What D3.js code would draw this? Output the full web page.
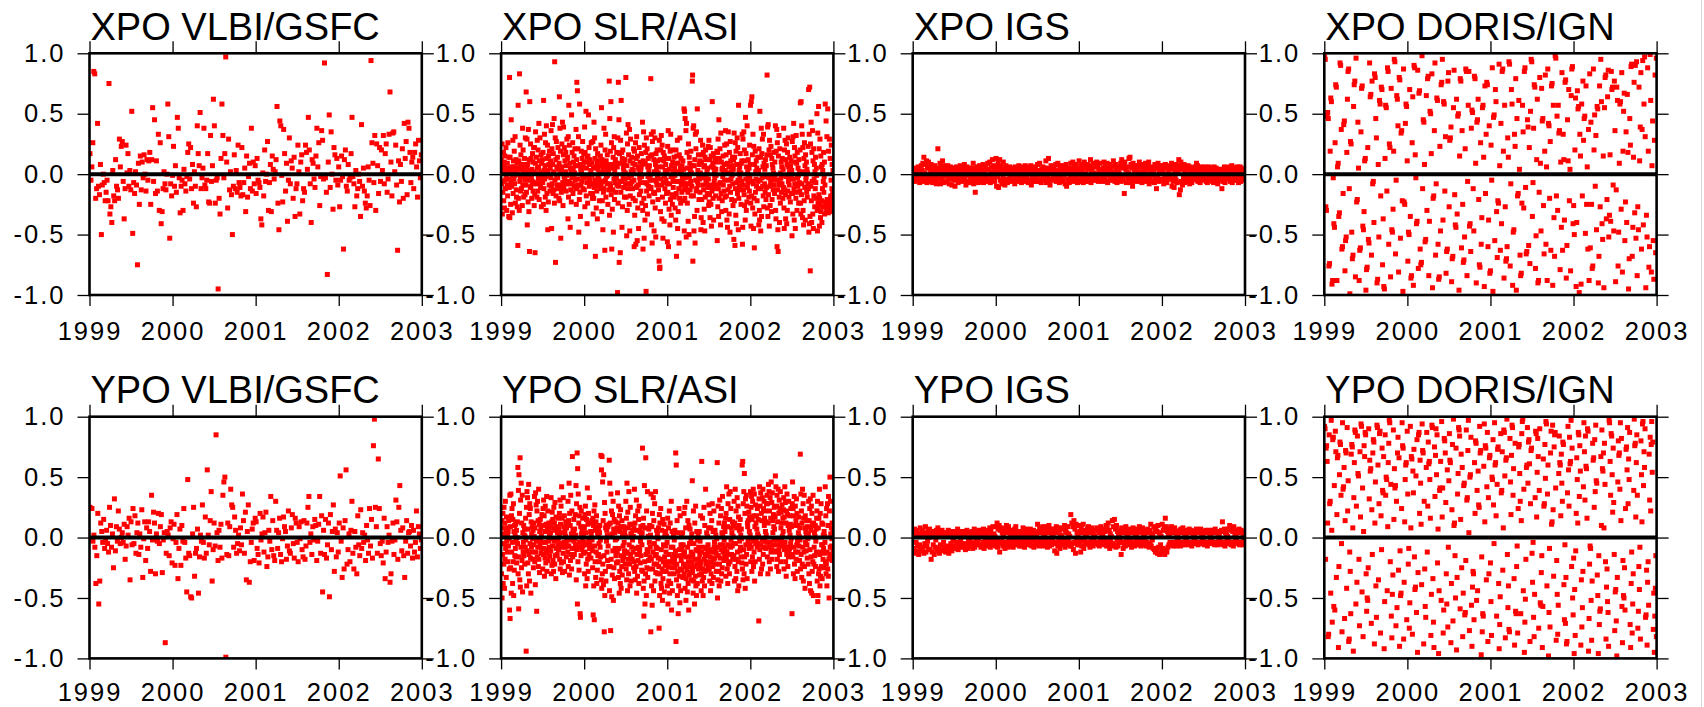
<!DOCTYPE html>
<html>
<head>
<meta charset="utf-8">
<script src="https://cdn.jsdelivr.net/npm/d3@7"></script>
<style>
  body { margin: 0; background: #fff; }
  svg { display: block; }
  text { font-family: "Liberation Sans", Arial, Helvetica, sans-serif; fill: #000; }
</style>
</head>
<body>
<svg id="chart" width="1704" height="707"></svg>
<script>
// Polar motion residuals per technique, in units of 0.01 mas.
// Each series is sampled at evenly spaced epochs over 1999.0 - 2003.0.

const xpoVlbi = [
  17,-5,6,26,85,83,-20,-12,42,-10, -17,8,-50,-9,0,-7,-22,-15,-5,-22,
  75,-33,-27,-40,3,-18,-22,12,-10,-13, -20,29,6,23,27,-6,-37,-12,24,1,
  17,-10,3,-13,52,-49,-7,-16,2,-9, -75,9,-25,15,-13,10,-3,16,0,-14,
  12,-5,11,18,-25,12,55,-6,45,-16, 11,-14,33,-30,26,-41,-31,-12,2,-8,
  -13,0,58,31,-53,-8,-18,-1,23,-10, 7,-15,47,38,-3,-32,-10,-5,-30,4,
  -8,-14,-2,18,25,-4,22,-12,8,-24, 2,-10,-27,40,17,7,51,-12,-3,5,
  38,-9,-12,-5,17,-23,-24,32,-6,7, 62,40,-24,-5,-3,-95,-20,-33,13,58,
  32,-3,17,97,10,-28,29,-13,2,-17, -50,-10,16,-12,3,-15,24,-7,-11,-18,
  22,-17,-7,5,-31,15,-19,-2,9,-12, 38,-14,10,-8,7,-16,13,-5,-7,-11,
  -37,-42,1,-18,20,-6,0,27,-30,-7, 8,-31,15,4,-4,2,12,56,-24,-46,
  44,40,-1,-23,37,17,-14,9,-39,-5, 30,-8,11,5,-20,14,-35,-12,-8,24,
  2,-33,10,16,-22,-12,-15,24,18,4, 47,20,-8,-40,12,9,-4,-11,15,38,
  6,26,-26,-2,36,28,-4,92,-3,-15, -83,10,49,-11,35,0,-29,22,16,-5,
  13,-9,6,-27,-5,15,-2,-62,12,20, -10,-14,8,-5,-3,17,47,-2,-8,-27,
  3,-18,-12,0,-6,-35,41,-10,5,-14, -24,-28,-18,6,-5,-26,94,26,9,-7,
  32,-30,25,7,-16,22,-6,20,3,32, -8,17,25,-15,-4,33,68,10,-18,34,
  35,2,24,-9,-63,11,-23,8,-6,21, -20,42,13,27,-17,43,38,18,-7,10,
  14,-12,18,25,6,-19,28,11,-3,16
];

const xpoSlr = [
  12,-8,3,25,-33,4,-15,-6,18,-22,7,10,-28,15,-5,-12,1,22,-2,3,-30,-9,9,-18,26,-4,5,-35,14,-11,
  80,-36,14,2,-25,-7,45,-10,6,2,-32,-3,28,-16,11,6,-4,19,-8,-1,31,-24,2,12,-13,-19,5,9,-27,0,
  -59,57,-20,4,11,-30,83,-6,24,-2,-14,16,8,-12,5,4,-26,38,-9,20,1,-19,8,-2,13,-5,-17,30,3,-9,
  68,-15,7,29,-42,8,-1,-23,37,-5,-31,12,-64,60,3,-11,25,-10,13,-3,-20,4,-6,17,10,-14,2,22,-8,-26,
  22,-17,-65,9,35,-7,1,14,-8,-19,28,5,-14,20,-3,6,42,-21,11,-8,30,-4,-11,2,16,-27,9,-2,12,-6,
  -7,18,-25,61,-12,3,33,-4,7,-19,26,-2,-30,40,13,-16,0,24,-46,3,-23,15,8,-9,19,-1,-14,5,11,-3,
  36,-10,-45,21,-8,41,8,-16,17,2,-13,46,-24,93,-5,30,-73,12,-18,27,-1,6,-9,14,-3,22,-12,4,-20,9,
  64,-22,38,-9,19,-53,3,-15,6,25,-12,43,-7,-26,16,39,-11,-2,22,-3,11,-6,2,18,-14,7,-1,29,-8,13,
  14,-37,31,-19,57,-6,24,-8,9,-44,5,-13,2,-23,49,-3,18,-8,26,-16,4,10,-2,15,-10,1,21,-5,7,-12,
  37,-25,12,76,-11,69,-9,21,-4,31,-48,7,-21,58,-15,8,-35,4,-9,19,2,-6,13,-1,27,-12,6,-3,17,10,
  -13,39,-27,18,-60,10,52,-18,5,-7,-41,14,-24,15,-2,49,-3,22,-10,8,-5,12,0,-16,3,26,-8,9,-1,-20,
  -16,27,-33,5,-20,43,-11,30,-5,13,-68,21,-8,-28,6,-14,9,-37,17,-2,4,-10,11,-4,1,-22,7,-6,15,-12,
  24,-9,55,-31,12,-22,9,-46,3,-15,-12,38,-6,7,-63,20,-5,33,-19,11,-2,4,-8,16,-1,-25,8,2,-13,5,
  77,-34,46,-8,19,-10,60,-17,26,-62,8,-29,5,-13,14,-48,22,-4,31,-21,3,-7,12,-1,-15,9,-3,18,-9,6,
  -98,30,-24,76,-10,45,-73,17,-6,9,-65,28,-15,61,-6,18,-44,13,-27,20,-3,5,-11,2,8,-19,12,-4,1,-8,
  80,-19,34,-51,7,-30,25,-12,41,-8,16,-3,-25,37,-47,11,-18,29,-8,2,-1,14,-6,4,-12,9,-20,3,21,-5,
  -60,19,-34,8,-22,26,-58,13,-11,31,-10,-55,15,-28,6,-9,-45,4,22,-17,-3,10,-7,1,-14,5,17,-2,-24,8,
  43,-30,-62,11,35,-20,-53,24,-7,-38,9,-26,18,-97,30,-14,-8,21,-33,6,-2,13,-10,3,-18,7,-5,15,-1,-12,
  79,-11,33,-42,16,-57,27,-23,-5,35,-15,12,-47,2,-16,30,-28,8,-52,17,-6,4,-9,20,-3,11,-21,1,-13,6,
  -72,28,-78,-77,12,-31,20,-4,32,-9,-37,24,-19,6,-53,18,-7,11,-39,15,-2,-12,3,-24,8,-5,13,-16,1,-8,
  -56,23,-15,36,-60,13,-29,4,-8,-42,19,-21,33,-2,-34,7,-17,20,-25,10,-4,-11,2,-6,14,-19,5,-1,-28,9,
  -38,20,-16,-68,15,-6,28,-45,9,-31,2,-12,-57,16,-20,30,-6,5,-24,13,-9,1,-15,7,-3,-22,11,-7,4,-13,
  54,-47,52,-20,46,-3,-11,36,-52,42,-8,18,-24,5,-15,-39,25,-8,-50,14,-2,9,-13,3,-6,19,-18,1,-10,7,
  77,82,-72,38,-18,40,-47,7,-35,12,-57,33,-5,21,-14,35,-12,-30,54,-6,3,-9,16,-2,-21,8,-4,11,-15,1,
  28,-46,-36,10,-21,16,-3,24,-9,-40,18,-13,6,-29,7,-47,14,-19,20,-5,-1,12,-8,2,-16,5,-11,23,-4,-26,
  28,-23,-17,12,-36,22,-9,-25,15,-43,6,-14,60,-11,9,-20,17,-38,5,-6,1,-3,13,-9,-18,4,-1,10,-12,19,
  -55,18,-27,29,-12,-35,45,-20,13,-8,21,-7,-42,34,-16,10,-31,4,-22,5,-2,15,-9,1,-14,8,-5,24,-19,3,
  36,-30,16,-18,25,-38,9,-44,1,-13,35,-5,6,-33,18,-10,-48,27,-15,11,-4,2,-21,7,-1,14,-8,-26,4,12,
  -54,34,-22,14,-59,26,-12,-34,19,-41,8,-7,30,-16,22,-5,-46,57,-20,3,-10,6,-2,17,-13,1,-25,9,-6,11,
  33,-58,-44,29,-9,-13,35,-17,20,-26,11,-38,47,-4,17,-30,6,-23,40,-11,2,-7,12,-1,-19,5,-14,24,-3,8,
  57,-24,-43,60,-18,64,-6,16,-28,33,-8,-45,23,-20,-61,8,-33,19,-15,2,-4,11,-10,5,-22,1,14,-6,-12,3,
  -42,21,-30,-38,52,-5,14,-47,-12,38,-35,17,-3,29,-10,6,-18,33,-27,9,-1,-8,4,-15,12,-2,-21,7,-11,16,
  82,-28,39,-35,41,-17,-3,20,-43,28,-10,-26,16,-7,23,-6,-31,13,-21,8,-2,5,-13,1,-9,18,-4,-16,10,-1,
  40,-30,-37,19,-5,37,-60,26,-13,-46,-64,15,-9,32,-19,-40,21,-7,-24,1,-3,10,-15,6,-8,13,-1,-20,4,-11,
  38,-28,-45,20,-13,28,-17,-37,12,-2,25,-41,8,-30,18,-14,30,-6,6,-19,-9,2,14,-4,-23,7,-1,11,-16,3,
  -51,27,-16,-33,31,-4,42,-12,-38,22,-8,15,-45,10,-20,32,-15,9,-30,18,-3,-10,5,-1,-24,12,-7,2,-14,20,
  59,-24,-33,60,-17,40,-8,33,-36,22,-30,2,-42,13,-22,26,-11,7,-38,16,-5,-2,10,-15,4,-19,1,-8,23,-12,
  70,-48,33,-41,72,-35,-80,25,-10,43,-22,-40,18,-6,36,-33,11,-45,21,-18,-4,8,-27,2,-12,14,-7,-20,5,-1,
  50,-30,-47,34,-24,-28,56,-17,21,-43,-20,29,-25,-36,15,-31,6,-22,-40,8,-12,3,-27,-6,18,-15,-2,10,-33,-9,
  58,-23,-27,44,-26,-30,31,-21,-28,54,-25,-32,19,-24,-29,29,-22,-26,13,-20,-18,-5,24,-31,-12,8,-27,-15,3,-22
];

const xpoIgs = [
  3,-4,1,5,-6,2,-2,4,-5,0,6,-3,2,-7,4,-1, 7,-5,3,9,-2,14,-6,1,8,-4,11,-7,5,-1,10,-3,
  6,-6,2,8,-3,4,-7,1,5,-2,7,-5,3,-8,2,-4, 21,-3,5,-1,9,-8,2,6,-5,11,-2,4,-7,7,-1,3,
  4,-6,2,7,-3,5,-8,1,6,-4,3,-9,2,-2,5,-5, 5,-10,3,-1,6,-4,2,-7,4,0,-5,7,-3,1,-6,3,
  6,-5,2,8,-2,4,-9,1,6,-6,3,-1,5,-7,2,-3, 3,-6,5,-2,9,-8,1,4,-15,2,-5,6,-3,1,-7,4,
  7,-4,2,5,-6,1,-3,8,-7,3,0,-5,6,-2,4,-6, 9,-5,4,-1,10,-7,2,6,-3,12,-4,1,7,-6,3,-2,
  13,-10,6,-2,9,-11,3,12,-5,1,7,-8,4,-3,10,-6, 4,-9,2,7,-4,5,-7,1,3,-5,6,-2,2,-6,4,-1,
  5,-5,1,4,-8,6,-3,2,5,-6,1,-4,7,-2,3,-5, 6,-7,3,-1,5,-4,2,-6,7,0,-5,3,-2,6,-7,1,
  4,-5,2,7,-9,3,-2,5,-6,1,4,-4,6,-3,2,-6, 8,-6,3,-1,9,-5,2,-7,4,1,6,-3,-5,5,-2,3,
  11,-7,2,5,-3,13,-6,1,-9,4,7,-4,2,-5,6,-2, 6,-4,3,8,-6,2,-5,9,-3,1,-7,4,7,-2,3,-6,
  7,-5,2,-1,6,-8,4,8,-10,3,-4,1,5,-7,2,-3, 9,-4,5,-2,10,-6,3,7,-5,1,8,-3,4,-7,2,-1,
  11,-5,3,7,-6,2,-2,8,-7,5,10,-3,1,-6,6,-4, 8,-6,4,-2,7,-4,12,-7,2,5,-3,9,-5,1,-2,6,
  6,-5,10,-2,7,-6,3,-1,9,-5,2,4,-6,1,-3,5, 10,-4,7,-6,2,-1,9,-7,4,1,8,-5,3,-2,6,-4,
  7,-5,11,-3,2,-6,8,-1,5,-7,3,4,-4,1,-2,6, 9,-6,12,-2,5,-5,7,-16,10,-1,4,-7,2,6,-3,1,
  13,-5,14,-7,8,-2,5,-10,9,-4,3,-6,1,7,-3,2, 5,-4,7,-6,10,-3,2,-1,6,-7,8,-2,3,-5,1,4,
  9,-6,5,-2,7,-5,10,-8,3,-4,6,-1,2,-6,4,1, 4,-7,8,-3,6,-12,5,-2,9,-6,1,3,-5,7,-4,2,
  7,-5,3,-8,6,-2,8,-6,5,-7,7,-3,1,-4,4,-1, 6,-4,9,-10,5,-6,7,-11,2,-3,8,-5,3,-7,1,4,
  12,-17,7,-13,10,-6,4,-9,6,-2,8,-7,3,-5,2,-1, 5,-6,7,-3,4,-8,6,-5,2,-7,5,-2,1,-4,3,-3,
  6,-4,9,-5,7,-6,3,-1,5,-7,6,-2,2,-4,4,1, 4,-5,6,-3,2,-6,5,-7,3,-4,6,-1,1,-5,3,-2,
  5,-6,3,-7,6,-4,2,-2,5,-6,3,-8,1,-3,4,-1, 3,-5,2,-12,4,-6,3,-2,6,-7,2,-4,1,-3,5,0,
  5,-3,6,-6,3,-5,7,-7,2,-4,5,-2,1,-5,4,-1, 6,-5,3,-7,4,-2,6,-6,5,-4,3,-5,1,-3,4,-2
];

const xpoDoris = [
  97,95,-27,-30,48,51,46,-76,-74,19,63,60,-91,-88,-3,-41,-44,26,74,72,-88,6,9,-35,-32,92,90,37,-62,-60,-16,41,44,-80,
  -55,-52,18,62,85,87,-12,-99,27,25,-48,-70,-67,56,74,77,-85,96,-23,-21,43,5,-88,-63,-61,35,71,73,-43,-46,
  -31,11,13,-96,-79,-77,22,-54,-57,92,64,66,-67,77,-8,-6,-40,83,80,46,30,-90,-87,8,-52,61,58,-18,72,70,-75,
  -37,-93,-95,13,57,55,-14,88,85,-58,25,22,-85,71,-46,-48,-29,19,95,93,-66,-5,65,62,40,-81,80,78,-53,
  34,36,-22,-97,87,-23,-25,42,58,56,11,-72,-48,-50,70,-35,-86,-84,26,64,-92,90,88,16,-3,-41,-39,86,
  -78,67,69,-62,-75,-73,98,-12,45,43,8,-56,-54,65,-30,79,81,-84,-39,52,50,17,83,-94,-20,-18,36,92,
  -67,-8,63,61,-58,-87,-85,23,-47,74,76,95,-38,60,58,-14,31,-82,-64,-62,77,84,-27,28,30,39,-89,
  -70,-68,55,86,-17,-42,-44,62,-33,48,50,-96,15,79,77,-61,36,-25,-73,-71,-52,21,87,85,-84,-6,57,
  85,-43,-41,-64,38,53,51,-12,-47,81,79,9,-90,43,45,62,-21,-75,-77,26,-58,-36,55,57,14,-93,73,
  -16,33,76,74,-60,-38,40,-82,-80,24,-5,88,-97,47,49,-55,70,60,-31,-69,-22,-24,91,7,-63,
  42,-41,85,87,19,-86,57,-27,-72,-70,-60,30,14,93,91,-76,-8,70,58,-92,-48,-46,33,23,79,
  -96,46,-18,-16,61,4,-67,-84,-82,-24,57,35,-28,85,88,-11,-66,-64,45,39,-59,22,-74,52,
  95,93,-35,-7,38,74,72,-78,-51,12,62,-90,-88,-15,80,9,-47,71,44,46,-26,-66,19,82,-58,
  6,-88,87,42,40,-20,27,-63,73,75,-92,57,-36,-68,98,96,-18,48,-30,57,34,36,-79,10,-44,
  84,-63,33,12,-38,76,78,-86,-59,45,11,70,-22,4,-80,65,87,89,-41,-26,-50,20,63,
  -93,-40,69,54,56,-98,33,15,-91,58,-18,77,28,46,48,-49,73,-25,6,-62,37,-88,83,
  -61,43,-25,-78,-76,87,20,49,-10,32,-46,56,54,-90,-68,73,-27,95,60,-41,-54,15,
  -94,55,80,82,-37,-21,64,86,-52,-34,16,-39,85,70,72,-9,-47,77,36,-89,-13,72,
  61,-76,-48,9,58,60,-29,84,-81,19,52,67,-55,-23,35,-40,66,18,-95,-70,46,
  24,89,91,-68,-44,14,76,-32,90,-53,93,-84,-27,-46,72,11,39,84,-62,37,94,
  -42,58,97,31,-94,-34,-52,88,19,-77,-60,99,61,-81,7,44,-55,-87,28,82,-65,96
];

const ypoVlbi = [
  25,-1,24,-3,2,-8,-38,-15,20,-55, -36,12,5,-4,15,-9,-2,6,-5,-12,
  25,10,-8,3,-25,32,-11,9,-3,22, 7,-5,0,4,-4,11,-18,-7,9,2,
  16,-35,13,-6,24,-5,18,-13,4,12, -14,3,-8,23,-33,-1,13,-19,8,-9,
  13,5,-28,35,-2,21,12,-30,3,-3, 20,-5,9,19,-29,-2,4,-87,-13,5,
  2,-15,8,13,-21,-1,11,-23,-4,19, -34,-9,7,-23,10,-3,24,-4,-17,-45,
  48,-13,-15,-49,-50,3,25,-32,-13,-9, 7,-46,-16,2,-3,27,-4,-17,17,-13,
  56,2,-6,14,38,-36,-10,12,-7,85, 4,-19,6,-8,11,-17,35,46,50,-99,
  -14,12,-15,9,40,27,25,-8,17,6, -13,-5,2,-11,8,-6,36,14,-13,21,
  -35,5,27,-37,-20,-4,7,12,-19,16, 13,-9,-14,-21,20,-2,3,17,-12,4,
  21,-24,-16,6,-3,34,-10,14,-15,-19, 30,6,-9,4,16,-14,-20,-1,17,9,
  5,-18,-7,22,-11,-13,8,19,-5,-17, 16,12,-4,-20,9,-1,13,-10,-16,14,
  -18,-7,12,25,34,-4,3,-14,9,-2, 15,10,-19,-3,11,34,-13,18,-45,6,
  -14,15,-17,-6,12,-49,19,-10,5,27, -28,7,-16,4,-12,12,51,-3,-33,8,
  -26,14,56,-22,-10,3,-20,6,30,-13, -26,5,-8,-30,18,-6,-15,23,-9,4,
  -4,2,-19,10,-2,-13,24,-7,15,-17, 76,98,25,9,-13,65,24,-5,-15,-3,
  -21,16,-34,-12,9,-4,2,-37,-30,-3, 12,-14,-2,31,13,-18,25,43,6,-11,
  8,-15,-33,-3,14,-13,4,5,-7,10, -17,6,-12,-4,22,-16,9,3,-9,-2
];

const ypoSlr = [
  25,-30,14,-50,8,-14,20,-38,3,-22,25,-5,-42,12,-18,30,-9,6,-33,17,-3,8,-12,1,-20,5,-7,14,-1,-26,
  -60,35,-67,9,-25,36,-46,18,-12,24,-4,-38,15,-20,28,-48,5,-27,10,-15,2,-9,11,-16,-3,6,-21,0,13,-5,
  58,-30,39,-59,52,-16,20,-35,66,-41,31,-8,45,-25,12,-19,35,-45,4,-12,-4,10,-15,2,7,-22,1,-8,16,-2,
  -94,25,-40,38,-11,33,-21,7,-30,44,-14,19,-36,28,-5,24,-17,-46,13,-8,3,-12,9,-1,-18,6,-25,12,-6,1,
  34,-20,8,-39,37,-12,27,-3,-61,22,-16,30,-8,14,-24,40,-18,11,-29,5,-5,15,-2,8,-13,1,-9,19,-4,10,
  -26,24,-14,31,-9,18,-32,5,-17,26,-4,-21,11,-13,34,-28,9,-10,22,-19,6,-3,12,-8,2,-15,9,-1,4,-11,
  33,-30,13,-23,21,-7,15,-19,8,-28,25,-3,12,-22,29,-15,6,-34,17,-9,-2,9,-14,4,-6,16,-1,-10,7,3,
  20,-18,31,-26,11,-5,26,-21,42,-8,16,-29,4,-13,33,-20,9,-4,18,-28,5,-8,1,13,-4,-16,8,-2,11,-7,
  -12,30,-24,14,-7,45,-31,20,-2,10,-19,35,-14,3,-26,22,-9,67,-16,6,-9,4,15,-3,-14,7,-1,19,-6,2,
  43,-35,28,-10,70,-55,57,-20,36,-8,12,-27,18,-4,25,-63,-66,9,-15,22,3,-10,6,-2,16,-7,1,-13,9,-4,
  8,-30,19,-12,26,-40,4,-22,15,-6,-34,41,-18,11,-28,20,-3,-14,33,-9,-6,12,-1,5,-17,3,-9,14,-2,-11,
  -25,16,-64,10,-40,22,-68,-7,27,-20,6,-33,13,-12,18,-38,9,-27,4,-15,1,-14,7,-5,-20,4,10,-8,-2,-16,
  68,-35,56,-42,67,-30,46,-22,14,-39,52,-15,-78,29,-48,20,-28,8,-36,10,-3,6,-12,2,-19,9,-7,1,-24,11,
  64,-44,45,-24,12,-77,36,-18,22,-49,3,-31,19,-11,30,-52,7,-25,15,-34,4,-9,-2,13,-15,6,-21,-1,8,-12,
  37,-20,12,-33,26,-9,-46,18,-28,5,-38,23,-15,-42,9,-24,14,-31,2,-19,-7,2,-16,9,-4,-11,5,-22,1,-13,
  30,-26,16,-35,45,-12,-44,21,-18,8,-30,38,-6,-22,11,-40,25,-14,3,-36,3,-8,11,-18,-2,6,-12,1,-25,8,
  -20,40,-28,12,-35,18,-9,-24,31,-46,-14,6,-32,22,-19,-8,15,-38,26,-12,-10,5,-21,-3,9,-15,2,-27,-6,4,
  74,-28,10,-42,16,-65,-36,43,-20,-55,8,-30,66,-14,-48,22,-25,-10,38,-33,-12,1,-19,7,-26,-4,10,-16,-8,2,
  -78,36,-18,-40,9,-56,20,-26,-12,33,-44,14,-22,-5,28,-36,-15,38,-29,-8,-14,6,-22,-9,3,-30,-1,-17,8,-24,
  -75,19,-48,12,-30,-18,24,-38,-10,-42,6,-26,-52,15,-34,-20,-6,-28,11,-45,-16,2,-23,-7,5,-12,-28,1,-20,-4,
  -40,16,-55,-24,8,-36,-14,22,-46,-30,12,-20,-38,-8,30,-60,-25,5,-44,-17,-8,-21,3,-14,-30,-2,-18,6,-25,-11,
  70,-86,60,-35,-22,14,-48,-28,4,-63,-15,-40,24,-32,-10,-54,18,-26,-44,-6,-19,1,-27,-9,-15,4,-33,-6,-22,-13,
  20,-30,-12,25,-42,-24,8,-52,-34,-16,30,-27,-45,-8,14,-38,-20,-60,10,-31,-5,-24,7,-16,-29,-2,-12,-35,3,-20,
  47,-28,-14,-46,22,-36,-5,-24,-55,12,-18,-32,26,-40,-10,-48,5,-22,-38,-2,-11,2,-26,-8,-18,5,-31,-14,-3,-23,
  18,-20,-44,-30,63,-12,-36,16,-26,-48,-8,-33,25,-18,-40,10,-28,-14,40,-22,-9,-20,4,-15,-27,1,-12,-6,-24,8,
  27,-26,-10,-36,20,-16,-44,8,-30,-20,14,-38,28,-12,-24,5,-33,-18,22,-8,-4,-17,6,-10,-22,2,-13,-28,-1,-8,
  62,-50,-35,26,-15,-28,12,-40,-22,31,-6,-17,18,-36,-10,24,-30,4,-25,34,3,-12,-6,9,-19,-2,12,-15,5,-9,
  16,-32,20,-18,42,-12,-26,9,-38,28,-6,-22,36,-14,-30,15,-20,38,-8,24,-2,8,-14,4,-7,13,-18,1,10,-5,
  -15,30,-36,12,-24,40,-5,-34,22,-18,8,-28,33,-12,-44,26,-20,17,-40,10,6,-3,-11,15,-8,2,-16,7,-1,-21,
  60,-26,63,-35,28,-10,38,-30,53,-16,20,-42,32,-6,-22,35,-14,26,-34,12,9,-4,14,-1,21,-9,5,17,-6,2,
  38,-20,25,-8,34,-28,15,-16,30,-3,40,-24,18,-12,36,-36,9,-20,27,-5,12,-2,18,7,-8,24,3,-5,15,1,
  -69,32,-18,42,-10,26,-30,37,-6,20,-26,14,-2,33,-22,40,-14,24,-8,30,10,16,-3,22,5,-9,13,2,28,-4,
  35,-16,28,-30,12,44,-8,38,-20,22,-4,33,-26,16,-12,46,-10,29,-18,37,14,4,-6,19,9,-2,25,7,-11,17,
  51,-12,42,-6,26,-24,35,-18,13,-2,40,-28,20,-10,31,-14,24,-6,38,-20,8,21,-3,12,27,1,-7,16,5,23,
  33,-26,17,-10,42,-4,29,-20,12,-32,22,-14,36,-8,19,-24,10,-16,30,-12,6,-9,18,2,11,-5,24,-1,9,-14,
  -63,28,46,-16,24,-30,18,-8,34,-22,10,-34,26,-12,14,-18,32,-6,20,-28,-3,10,-12,4,17,-7,1,-19,8,-2,
  69,-26,36,-14,22,-33,12,-22,40,-8,28,-36,16,-12,35,-24,8,-42,18,-4,5,-11,2,14,-6,-17,9,-1,-22,3,
  30,-30,14,-38,24,-10,32,-44,6,-16,26,-46,20,-28,10,-20,35,-48,12,-22,-8,4,-15,1,10,-24,-3,7,-12,16,
  22,-36,30,-53,-48,8,-30,16,-26,40,-14,-40,20,-32,-12,28,-24,-6,12,-34,-6,11,-18,2,-9,-25,5,-13,1,-4,
  42,-20,18,-30,-22,24,-40,-12,28,-26,10,-32,34,-18,-50,22,-14,50,-8,30,3,-15,8,-7,-1,12,-19,5,-10,0
];

const ypoIgs = [
  5,-9,2,7,-13,1,-4,-11,6,-7,3,-14,1,-6,8,-10, 3,-11,6,-8,1,-13,4,-5,9,-12,2,-7,-3,5,-10,0,
  7,-10,3,-18,1,-12,5,-6,2,-14,4,-8,-2,6,-11,1, 8,-9,2,-13,5,-6,3,-11,6,-10,1,-4,4,-8,2,-12,
  4,-10,2,-7,6,-13,1,-9,3,-5,2,-11,5,-3,0,-8, 5,-7,2,-9,4,-4,7,-10,1,-6,3,-8,-2,5,-5,1,
  3,-8,5,-6,2,-10,1,-5,6,-9,3,-3,4,-7,0,-4, 4,-7,5,-9,2,-5,7,-8,3,-3,1,-6,5,-4,-1,6,
  5,-6,3,-8,6,-7,2,-4,7,-9,4,-2,1,-5,3,-6, 6,-7,4,-3,8,-8,5,-5,2,-6,9,-3,3,-4,1,-7,
  9,-6,12,-8,7,-3,10,-12,6,-5,8,-2,4,-7,2,-4, 7,-9,5,-4,10,-6,4,-8,9,-3,6,-5,2,-7,3,-1,
  6,-8,4,-3,7,-6,9,-5,3,-4,5,-2,1,-7,2,-5, 5,-7,4,-4,8,-3,3,-8,6,-2,7,-5,2,-6,1,-3,
  4,-5,7,-6,3,-7,5,-2,6,-8,4,-3,1,-5,2,-4, 11,-6,5,-7,8,-3,4,-5,7,-2,9,-7,2,-4,3,-1,
  6,-5,9,-8,4,-4,10,-7,5,-2,7,-6,1,-3,3,-5, 7,-11,5,-4,9,-13,4,-7,8,-3,6,-9,2,-5,1,-2,
  8,-6,7,-3,10,-8,5,-5,4,-6,9,-2,3,-4,1,-7, 19,-7,12,-5,9,-10,14,-4,7,-13,11,-2,4,-6,2,-3,
  10,-6,5,-12,8,-7,4,-3,11,-9,6,-2,3,-5,1,-4, 7,-5,9,-6,4,-8,6,-2,8,-4,5,-7,2,-3,1,-5,
  6,-4,8,-5,7,-6,4,-7,5,-2,9,-5,2,-3,3,-1, 7,-6,5,-2,10,-7,8,-4,12,-5,6,-9,3,-3,1,-6,
  14,-5,9,-7,15,-6,7,-8,10,-2,5,-7,3,-4,2,-1, 6,-14,8,-4,4,-9,7,-6,5,-7,9,-2,3,-5,1,-3,
  5,-6,7,-3,6,-8,4,-5,8,-6,5,-7,2,-2,3,-4, 7,-5,4,-6,9,-3,6,-7,5,-4,8,-6,2,-3,1,-2,
  6,-7,5,-4,7,-6,4,-8,6,-5,11,-7,3,-2,2,-9, 9,-10,6,-12,7,-9,5,-13,10,-8,4,-14,3,-6,1,-11,
  11,-9,6,-13,8,-14,16,-10,9,-12,5,-8,2,-6,3,-4, 7,-6,9,-5,4,-7,6,-4,8,-6,5,-7,2,-3,1,-2,
  5,-4,6,-7,7,-5,4,-6,8,-4,5,-6,2,-3,3,-1, 6,-5,4,-6,7,-4,5,-5,6,-7,4,-5,2,-2,1,-3,
  5,-4,7,-5,4,-6,6,-4,5,-5,7,-4,2,-3,3,-1, 4,-6,5,-4,6,-5,4,-7,5,-4,6,-5,1,-2,2,-3,
  6,-4,5,-5,4,-6,7,-4,5,-5,4,-6,2,-3,1,-2, 5,-5,6,-4,13,-6,5,-4,7,-7,4,-5,2,-3,1,-2,
  7,-4,10,-5,6,-6,8,-4,5,-7,9,-5,3,-2,1,-3, 6,-5,5,-4,7,-6,4,-5,6,-4,5,-6,2,-3,1,-2
];

const ypoDoris = [
  92,90,-18,74,76,63,12,-82,-80,85,28,30,-46,97,6,-70,81,83,-57,43,-60,88,71,-33,19,66,
  68,-91,-24,52,79,77,35,-5,-78,95,40,42,58,-67,14,72,70,-42,91,22,47,-86,-84,-12,-28,-63,
  69,77,75,8,-94,33,62,89,87,-55,26,-37,84,53,51,-18,-73,71,17,94,92,-45,41,-82,5,76,
  67,87,85,-30,-61,-50,-52,-25,90,32,64,55,57,-71,23,-14,70,81,79,-88,12,46,-40,-66,93,91,
  60,-35,28,86,88,-79,18,-10,74,39,37,67,-92,-53,85,35,50,48,-44,9,62,78,97,95,-20,44,
  -65,-83,-47,-31,89,15,57,41,43,-73,30,-58,70,83,-27,66,-90,-11,-48,-46,24,95,76,74,
  -84,-37,13,48,60,62,-68,88,36,-22,-9,-75,-54,92,8,67,65,-80,55,37,73,-16,-43,-41,
  51,-62,81,-95,-29,85,87,20,64,45,11,-39,94,72,70,-88,30,-26,-57,-66,58,87,-12,
  26,79,61,63,48,16,-81,-47,93,91,-34,-70,-91,75,34,68,90,52,85,-21,7,-96,-44,39,41,
  63,-52,96,17,41,-79,-60,82,80,70,29,-30,-55,56,-74,-8,47,86,64,62,-87,-38,23,
  77,-69,98,10,12,-15,-50,74,-93,-33,36,53,91,89,84,-59,15,69,-25,58,-82,-46,43,45,
  -64,-62,-19,89,31,33,72,97,4,-77,50,52,83,-56,-90,-41,-28,-30,-68,62,20,80,78,-52,39,-44,
  55,27,25,92,70,72,-97,-16,-78,-63,-65,59,94,13,76,74,-35,42,87,-86,33,-30,66,68,-21,-53,
  -81,50,48,81,27,-5,95,60,62,18,-65,44,73,75,-38,-92,-72,-49,86,37,39,71,-27,8,89,87,
  51,-83,64,66,98,-14,-58,-40,-76,-78,82,46,19,68,93,91,35,57,-34,-89,78,-61,-63,-24,
  -7,-79,24,75,77,53,30,-63,14,86,96,98,-44,40,-95,-70,-51,-18,58,60,91,45,79,81,
  61,-86,28,72,74,-13,-37,-4,-66,-82,-47,33,88,86,17,54,82,67,-75,39,90,-54,-56,
  -29,-15,-91,-57,65,26,28,77,49,96,94,-40,36,60,-98,-62,-9,-74,70,88,11,13,93,
  23,-32,75,85,87,41,-85,-19,-47,-80,-56,53,84,62,60,18,69,45,30,79,77,-39,-68,
  -6,-71,-33,-88,-86,37,92,56,26,83,61,63,97,-24,74,-50,-64,-17,-96,-43,-81,
  -11,20,66,48,12,87,85,34,76,55,-89,-35,-74,-58,-28,42,95,71,31,84,59,57,
  16,90,88,-94,-67,-22,-7,-9,-52,-85,-36,78,64,66,25,81,38,93,47,45,-31,-48,-96,
  -15,-72,-61,-59,67,10,89,57,55,70,8,78,44,-20,-84,-41,-26,-53,-62,-90,97,95,
  63,35,86,84,52,21,74,29,-14,-77,-45,-43,-69,-98,-33,46,80,68,70,40,95,14,82,
  -57,-87,-19,-48,-50,-25,-60,24,73,75,56,91,28,65,48,87,-72,-91,-38,-12,-79,
  -55,-30,39,98,76,78,17,62,85,35,-75,-61,-24,-43,-8,-84,80,52,13,94,96,43,
  71,58,90,-66,-64,-27,-89,-37,-20,-56,69,31,83,22,77,96,54,79,-76,-46,
  -95,-65,-42,-15,-82
];

const panelTitles = [
  "XPO VLBI/GSFC", "XPO SLR/ASI", "XPO IGS", "XPO DORIS/IGN",
  "YPO VLBI/GSFC", "YPO SLR/ASI", "YPO IGS", "YPO DORIS/IGN"
];
const panelSeries = [xpoVlbi, xpoSlr, xpoIgs, xpoDoris, ypoVlbi, ypoSlr, ypoIgs, ypoDoris];

const yearTicks = [1999, 2000, 2001, 2002, 2003];
const valueTicks = [-1.0, -0.5, 0.0, 0.5, 1.0];
const timeSpan = [1999, 2003];
const valueSpan = [-1, 1];

// Panel grid geometry
const LEFT0 = 89.5, COL_STEP = 411.6, PW = 332.3, PH = 241.7;
const ROW_TOPS = [53.3, 416.7];
const YEAR_LABEL_PAD = [16, 13.5];
const MARK = 5;

const svg = d3.select("#chart");

const x = d3.scaleLinear().domain(timeSpan).range([0, PW]);
const y = d3.scaleLinear().domain(valueSpan).range([PH, 0]);

panelSeries.forEach((values, k) => {
  const col = k % 4, row = Math.floor(k / 4);
  const g = svg.append("g")
    .attr("transform", `translate(${LEFT0 + col * COL_STEP},${ROW_TOPS[row]})`);

  const clipId = "plot-clip-" + k;
  g.append("clipPath").attr("id", clipId)
    .append("rect").attr("width", PW).attr("height", PH);

  // residual points, evenly spaced epochs over the span
  const n = values.length;
  const epoch = i => timeSpan[0] + (i + 0.5) * (timeSpan[1] - timeSpan[0]) / n;
  g.append("g").attr("clip-path", `url(#${clipId})`)
    .selectAll("rect").data(values).join("rect")
    .attr("x", (d, i) => x(epoch(i)) - MARK / 2)
    .attr("y", d => y(d / 100) - MARK / 2)
    .attr("width", MARK).attr("height", MARK)
    .attr("fill", "#ff0000");

  // zero reference line
  g.append("line")
    .attr("x1", 0).attr("x2", PW)
    .attr("y1", y(0)).attr("y2", y(0))
    .attr("stroke", "#000").attr("stroke-width", 4);

  // axes on all four sides; labels on left and bottom only
  const left = g.append("g").call(
    d3.axisLeft(y).tickValues(valueTicks).tickFormat(d => d.toFixed(1))
      .tickSize(12).tickPadding(12));
  const right = g.append("g").attr("transform", `translate(${PW},0)`).call(
    d3.axisRight(y).tickValues(valueTicks).tickFormat("").tickSize(12));
  const top = g.append("g").call(
    d3.axisTop(x).tickValues(yearTicks).tickFormat("").tickSize(12));
  const bottom = g.append("g").attr("transform", `translate(0,${PH})`).call(
    d3.axisBottom(x).tickValues(yearTicks).tickFormat(d3.format("d"))
      .tickSize(11).tickPadding(YEAR_LABEL_PAD[row]));

  [left, right, top, bottom].forEach(a => {
    a.select(".domain").remove();
    a.selectAll(".tick line").attr("stroke", "#000").attr("stroke-width", 1.3);
    a.selectAll(".tick text")
      .attr("fill", "#000")
      .style("font-size", "25.5px")
      .style("letter-spacing", "2px")
      .style("font-family", "'Liberation Sans', Arial, Helvetica, sans-serif");
  });

  // frame
  g.append("rect")
    .attr("width", PW).attr("height", PH)
    .attr("fill", "none").attr("stroke", "#000").attr("stroke-width", 2.6);

  // title
  g.append("text")
    .attr("x", 1).attr("y", -13.3)
    .style("font-size", "38px")
    .text(panelTitles[k]);
});

// thin border at the right edge of the figure
svg.append("line")
  .attr("x1", 1701.5).attr("x2", 1701.5).attr("y1", 0).attr("y2", 707)
  .attr("stroke", "#d8d8d8").attr("stroke-width", 1);
</script>
</body>
</html>
